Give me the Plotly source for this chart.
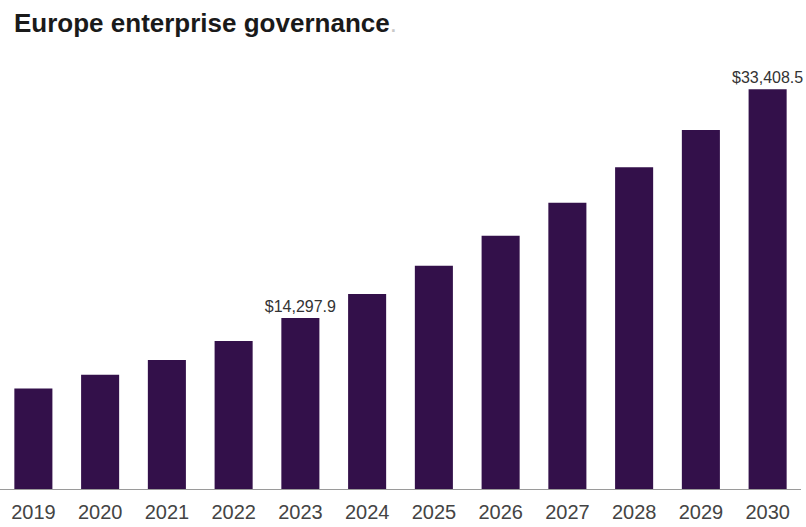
import plotly.graph_objects as go

years = ["2019", "2020", "2021", "2022", "2023", "2024", "2025", "2026", "2027", "2028", "2029", "2030"]
values = [8390, 9550, 10780, 12370, 14297.9, 16300, 18660, 21170, 23930, 26890, 30000, 33408.5]
labelled_years = ["2023", "2030"]

bar_color = "#33104a"

bar_text = [f"${v:,.1f}" if yr in labelled_years else "" for yr, v in zip(years, values)]

fig = go.Figure()
fig.add_trace(go.Bar(
    x=years, y=values,
    marker=dict(color=bar_color, line=dict(width=0)),
    text=bar_text,
    texttemplate="%{text}",
    textposition="outside",
    constraintext="none",
    cliponaxis=False,
    textfont=dict(family="Liberation Sans, Arial, sans-serif", size=16, color="#333333"),
    hoverinfo="skip",
))

fig.update_layout(
    width=806, height=527,
    margin=dict(l=0, r=5, t=60, b=38),
    paper_bgcolor="white", plot_bgcolor="white",
    bargap=0.43,
    showlegend=False,
    uniformtext=dict(mode=False),
    title=dict(
        text="<b>Europe enterprise governance</b><span style='color:#c8c8c8'>.</span>",
        xref="container", yref="container",
        x=14 / 806, xanchor="left",
        y=1 - 14 / 527, yanchor="top",
        font=dict(family="Liberation Sans, Arial, sans-serif", size=26, color="#1a1a1a"),
    ),
    xaxis=dict(
        type="category",
        range=[-0.5, 11.5],
        showline=True, linecolor="#9a9a9a", linewidth=1,
        showgrid=False, ticks="",
        tickfont=dict(family="Liberation Sans, Arial, sans-serif", size=20, color="#444444"),
        ticklabelstandoff=5,
    ),
    yaxis=dict(
        range=[0, 35856],
        visible=False, showgrid=False, zeroline=False,
    ),
)

fig.write_html("out.html")
